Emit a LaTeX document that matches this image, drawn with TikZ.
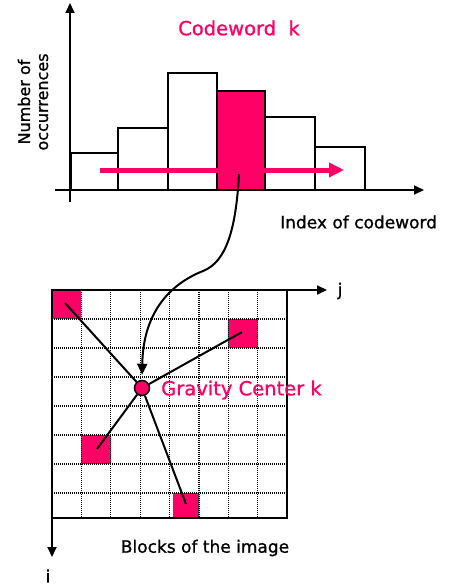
\documentclass[tikz,border=0pt]{standalone}
\usepackage{fontspec}
\setmainfont[FakeBold=1]{DejaVu Sans}
\usetikzlibrary{arrows.meta}
\definecolor{hot}{RGB}{255,0,102}
\begin{document}
\begin{tikzpicture}[x=1pt,y=-1pt,
  bar/.style={draw=black,line width=2.2pt,fill=white},
  axis/.style={line width=2pt,-{Triangle[length=10pt,width=9pt]}},
  conn/.style={line width=2pt},
  lbl/.style={font=\fontsize{17}{20}\selectfont},
  plbl/.style={text=hot,font=\fontsize{19.5}{22}\selectfont},
  dotgrid/.style={line width=1.3pt,dash pattern=on 1pt off 1pt},
  cell/.style={fill=hot}]
\useasboundingbox (0,0) rectangle (449,588);
% ---------- histogram ----------
\coordinate (yb) at (70,202); \coordinate (yt) at (70,3);
\coordinate (xl) at (55,190); \coordinate (xr) at (424,190);
\draw[bar] (71,153) rectangle (118,190);
\draw[bar] (118,128) rectangle (168,190);
\draw[bar] (168,73) rectangle (217,190);
\draw[bar,fill=hot] (217,91) rectangle (265,190);
\draw[bar] (265,117) rectangle (315,190);
\draw[bar] (315,147) rectangle (365,190);
\draw[axis] (yb) -- (yt);
\draw[axis] (xl) -- (xr);
\coordinate (pa) at (100,170); \coordinate (pb) at (344,170);
\draw[hot,line width=5pt,-{Triangle[length=15pt,width=14pt]}] (pa) -- (pb);
\node[plbl] (cw) at (239,28) {Codeword\ \ k};
\node[font=\fontsize{16}{18}\selectfont,rotate=90,align=center] (noc) at (33,102) {Number of\\occurrences};
\node[lbl,anchor=west,inner sep=0pt] (idx) at (280,222) {Index of codeword};
\coordinate (pbc) at (239,174);
% ---------- grid ----------
\fill[cell] (52,290) rectangle (81.4,319);
\fill[cell] (228.4,319) rectangle (257.8,348);
\fill[cell] (81.4,435) rectangle (110.8,464);
\fill[cell] (173,493) rectangle (199,518);
\foreach \x in {81.4,110.8,140.2,169.6,199,228.4,257.8}
  \draw[dotgrid] (\x,290) -- (\x,518);
\foreach \y in {319,348,377,406,435,464,493}
  \draw[dotgrid] (52,\y) -- (287,\y);
\draw[line width=2pt] (52,290) rectangle (287,518);
\coordinate (o) at (52,290);
\coordinate (jx) at (327,290); \coordinate (iy) at (52,557);
\draw[axis] (o) -- (jx);
\draw[axis] (o) -- (iy);
\node[lbl] (jl) at (340,291) {j};
\node[lbl] (il) at (48,576) {i};
\node[circle,draw,fill=hot,line width=1.5pt,minimum size=15pt,inner sep=0pt] (gc) at (142,388) {};
\coordinate (c1) at (65,303);
\coordinate (c2) at (242,332);
\coordinate (c3) at (97,449);
\coordinate (c4) at (186,504);
\foreach \c in {c1,c2,c3,c4} \draw[conn] (\c) -- (gc);
\node[plbl,anchor=west,inner sep=0pt] (gcl) at (161,390) {Gravity Center k};
\node[lbl] (blk) at (205,548) {Blocks of the image};
\draw[conn,shorten >=5pt,-{Triangle[length=11pt,width=10pt]}] (pbc) .. controls (236,230) and (226,262) .. (203,271) .. controls (163,287) and (143,320) .. (gc.north);
\end{tikzpicture}
\end{document}
